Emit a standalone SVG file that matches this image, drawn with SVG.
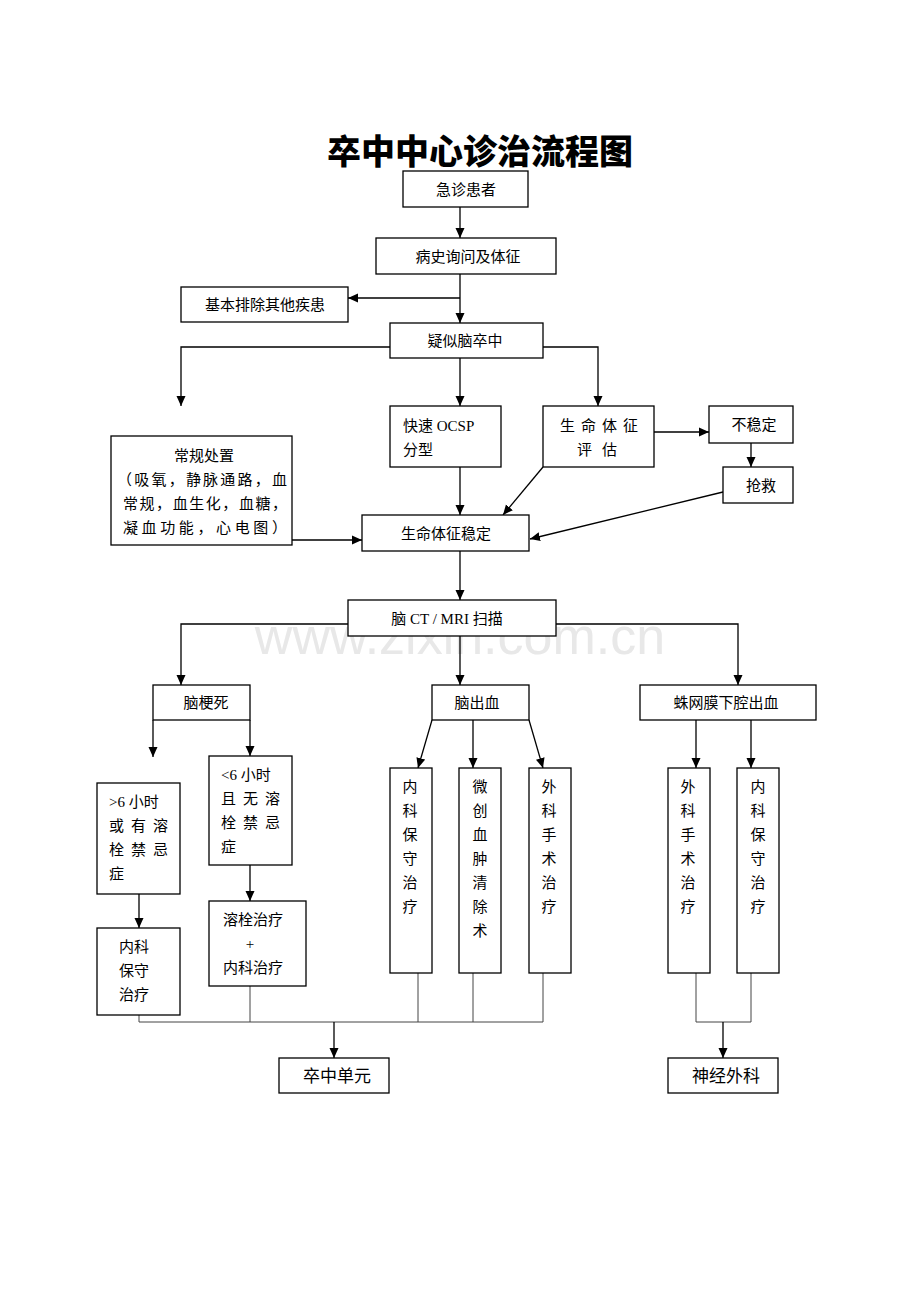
<svg xmlns="http://www.w3.org/2000/svg" width="920" height="1302" viewBox="0 0 920 1302">
<style>
.b{fill:#fff;stroke:#000;stroke-width:1.3}
.t{font-family:"Liberation Serif","Noto Sans CJK SC",serif;font-size:15px;fill:#000}
.c{text-anchor:middle}
.l{fill:none;stroke:#000;stroke-width:1.3}
.g{fill:none;stroke:#444;stroke-width:1}
.wm{font-family:"Liberation Sans",Arial,sans-serif;font-size:52px;fill:#e8e8e8}
</style>
<defs>
<marker id="a" markerUnits="userSpaceOnUse" markerWidth="10" markerHeight="10" refX="10" refY="5" orient="auto">
<path d="M0,0.5 L10,5 L0,9.5 Z" fill="#000"/>
</marker>
</defs>
<rect width="920" height="1302" fill="#fff"/>
<text class="wm" x="460" y="654" text-anchor="middle">www.zixin.com.cn</text>
<text x="480" y="164" text-anchor="middle" style="font-family:'Noto Sans CJK SC',sans-serif;font-size:34px;font-weight:900">卒中中心诊治流程图</text>

<g id="connectors">
<path class="l" d="M460,207 V238" marker-end="url(#a)"/>
<path class="l" d="M460,274 V323" marker-end="url(#a)"/>
<path class="l" d="M460,298 H348" marker-end="url(#a)"/>
<path class="l" d="M390,347 H181 V406" marker-end="url(#a)"/>
<path class="l" d="M460,358 V406" marker-end="url(#a)"/>
<path class="l" d="M543,347 H598 V406" marker-end="url(#a)"/>
<path class="l" d="M654,432 H709" marker-end="url(#a)"/>
<path class="l" d="M751,443 V467" marker-end="url(#a)"/>
<path class="l" d="M723,492 L530,539" marker-end="url(#a)"/>
<path class="l" d="M543,467 L503,515" marker-end="url(#a)"/>
<path class="l" d="M460,467 V515" marker-end="url(#a)"/>
<path class="l" d="M292,540 H362" marker-end="url(#a)"/>
<path class="l" d="M460,551 V600" marker-end="url(#a)"/>
<path class="l" d="M348,624 H181 V685" marker-end="url(#a)"/>
<path class="l" d="M460,636 V685" marker-end="url(#a)"/>
<path class="l" d="M556,624 H738 V685" marker-end="url(#a)"/>
<path class="l" d="M153,720 V757" marker-end="url(#a)"/>
<path class="l" d="M250,720 V756" marker-end="url(#a)"/>
<path class="l" d="M139,894 V928" marker-end="url(#a)"/>
<path class="l" d="M250,865 V901" marker-end="url(#a)"/>
<path class="l" d="M432,720 L418,768" marker-end="url(#a)"/>
<path class="l" d="M473,720 V768" marker-end="url(#a)"/>
<path class="l" d="M529,720 L543,768" marker-end="url(#a)"/>
<path class="l" d="M696,720 V768" marker-end="url(#a)"/>
<path class="l" d="M751,720 V768" marker-end="url(#a)"/>
<path class="g" d="M139,1015 V1022 H543 M250,986 V1022 M418,973 V1022 M473,973 V1022 M543,973 V1022"/>
<path class="l" d="M334,1022 V1058" marker-end="url(#a)"/>
<path class="g" d="M696,973 V1022 H751 V973"/>
<path class="l" d="M723,1022 V1058" marker-end="url(#a)"/>
</g>

<g id="n1"><rect class="b" x="403" y="171" width="125" height="36"/><text class="t c" x="466" y="195">急诊患者</text></g>
<g id="n2"><rect class="b" x="376" y="238" width="180" height="36"/><text class="t c" x="468" y="262">病史询问及体征</text></g>
<g id="n3"><rect class="b" x="181" y="287" width="167" height="35"/><text class="t c" x="265" y="310">基本排除其他疾患</text></g>
<g id="n4"><rect class="b" x="390" y="323" width="153" height="35"/><text class="t c" x="465" y="346">疑似脑卒中</text></g>
<g id="n5"><rect class="b" x="390" y="406" width="111" height="61"/><text class="t" x="403" y="431">快速 OCSP</text><text class="t" x="403" y="455">分型</text></g>
<g id="n6"><rect class="b" x="543" y="406" width="111" height="61"/><text class="t c" x="602" y="431" letter-spacing="6">生命体征</text><text class="t c" x="602" y="455" letter-spacing="10">评估</text></g>
<g id="n7"><rect class="b" x="709" y="406" width="84" height="37"/><text class="t c" x="754" y="430">不稳定</text></g>
<g id="n8"><rect class="b" x="723" y="467" width="70" height="36"/><text class="t c" x="761" y="491">抢救</text></g>
<g id="n9"><rect class="b" x="111" y="436" width="181" height="109"/>
<text class="t c" x="204" y="461">常规处置</text>
<text class="t" x="117" y="485" textLength="170" lengthAdjust="spacing">（吸氧，静脉通路，血</text>
<text class="t" x="123" y="509" textLength="164" lengthAdjust="spacing">常规，血生化，血糖，</text>
<text class="t" x="123" y="533" textLength="164" lengthAdjust="spacing">凝血功能，心电图）</text></g>
<g id="n10"><rect class="b" x="362" y="515" width="167" height="36"/><text class="t c" x="446" y="539">生命体征稳定</text></g>
<g id="n11"><rect class="b" x="348" y="600" width="208" height="36"/><text class="t c" x="447" y="624">脑 CT / MRI  扫描</text></g>
<g id="n12"><rect class="b" x="153" y="685" width="97" height="35"/><text class="t c" x="206" y="708">脑梗死</text></g>
<g id="n13"><rect class="b" x="432" y="685" width="97" height="35"/><text class="t c" x="477" y="708">脑出血</text></g>
<g id="n14"><rect class="b" x="640" y="685" width="176" height="35"/><text class="t c" x="726" y="708">蛛网膜下腔出血</text></g>
<g id="n15"><rect class="b" x="97" y="783" width="83" height="111"/>
<text class="t" x="109" y="807">&gt;6 小时</text>
<text class="t" x="109" y="831" letter-spacing="7">或有溶</text>
<text class="t" x="109" y="855" letter-spacing="7">栓禁忌</text>
<text class="t" x="109" y="879">症</text></g>
<g id="n16"><rect class="b" x="209" y="756" width="83" height="109"/>
<text class="t" x="221" y="780">&lt;6 小时</text>
<text class="t" x="221" y="804" letter-spacing="7">且无溶</text>
<text class="t" x="221" y="828" letter-spacing="7">栓禁忌</text>
<text class="t" x="221" y="852">症</text></g>
<g id="n17"><rect class="b" x="97" y="928" width="83" height="87"/>
<text class="t c" x="134" y="952">内科</text><text class="t c" x="134" y="976">保守</text><text class="t c" x="134" y="1000">治疗</text></g>
<g id="n18"><rect class="b" x="209" y="901" width="97" height="85"/>
<text class="t c" x="253" y="925">溶栓治疗</text><text class="t c" x="250" y="949">+</text><text class="t c" x="253" y="973">内科治疗</text></g>
<g id="n19"><rect class="b" x="390" y="768" width="42" height="205"/>
<text class="t c" x="410"><tspan x="410" y="792">内</tspan><tspan x="410" y="816">科</tspan><tspan x="410" y="840">保</tspan><tspan x="410" y="864">守</tspan><tspan x="410" y="888">治</tspan><tspan x="410" y="912">疗</tspan></text></g>
<g id="n20"><rect class="b" x="459" y="768" width="42" height="205"/>
<text class="t c" x="480"><tspan x="480" y="792">微</tspan><tspan x="480" y="816">创</tspan><tspan x="480" y="840">血</tspan><tspan x="480" y="864">肿</tspan><tspan x="480" y="888">清</tspan><tspan x="480" y="912">除</tspan><tspan x="480" y="936">术</tspan></text></g>
<g id="n21"><rect class="b" x="529" y="768" width="42" height="205"/>
<text class="t c" x="549"><tspan x="549" y="792">外</tspan><tspan x="549" y="816">科</tspan><tspan x="549" y="840">手</tspan><tspan x="549" y="864">术</tspan><tspan x="549" y="888">治</tspan><tspan x="549" y="912">疗</tspan></text></g>
<g id="n22"><rect class="b" x="668" y="768" width="42" height="205"/>
<text class="t c" x="688"><tspan x="688" y="792">外</tspan><tspan x="688" y="816">科</tspan><tspan x="688" y="840">手</tspan><tspan x="688" y="864">术</tspan><tspan x="688" y="888">治</tspan><tspan x="688" y="912">疗</tspan></text></g>
<g id="n23"><rect class="b" x="737" y="768" width="42" height="205"/>
<text class="t c" x="758"><tspan x="758" y="792">内</tspan><tspan x="758" y="816">科</tspan><tspan x="758" y="840">保</tspan><tspan x="758" y="864">守</tspan><tspan x="758" y="888">治</tspan><tspan x="758" y="912">疗</tspan></text></g>
<g id="n24"><rect class="b" x="279" y="1058" width="110" height="35"/><text class="t c" x="337" y="1082" style="font-size:17px">卒中单元</text></g>
<g id="n25"><rect class="b" x="668" y="1058" width="110" height="35"/><text class="t c" x="726" y="1082" style="font-size:17px">神经外科</text></g>
</svg>
